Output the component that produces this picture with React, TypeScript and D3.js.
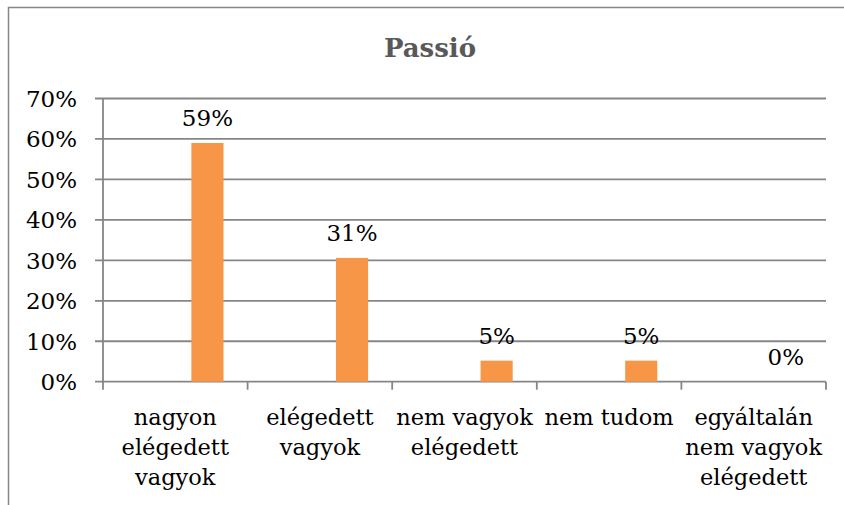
import { useEffect, useRef } from "react";
import * as d3 from "d3";

// Passió – satisfaction survey, single series drawn in the 3rd slot of a clustered layout
const title = "Passió";
const categories = [
  "nagyon\nelégedett\nvagyok",
  "elégedett\nvagyok",
  "nem vagyok\nelégedett",
  "nem tudom",
  "egyáltalán\nnem vagyok\nelégedett",
];
const values = [0.59, 0.306, 0.052, 0.052, 0];
const seriesSlots = ["s1", "s2", "Passió"];
const yTicks = [0, 0.1, 0.2, 0.3, 0.4, 0.5, 0.6, 0.7];

const W = 844;
const H = 505;
const FONT = "'DejaVu Serif', serif";
const GRID = "#868686";

export default function App() {
  const svgRef = useRef<SVGSVGElement | null>(null);

  useEffect(() => {
    const svg = d3.select(svgRef.current);
    svg.selectAll("*").remove();

    const margin = { top: 98.5, right: 18, bottom: 123.3, left: 103 };
    const x = d3
      .scaleBand<string>()
      .domain(categories)
      .range([margin.left, W - margin.right])
      .paddingInner(0)
      .paddingOuter(0);
    const slot = d3
      .scaleBand<string>()
      .domain(seriesSlots)
      .range([0, x.bandwidth()])
      .paddingInner(0)
      .paddingOuter(0.75);
    const y = d3
      .scaleLinear()
      .domain([0, 0.7])
      .range([H - margin.bottom, margin.top]);
    const pct = d3.format(".0%");

    // outer chart frame (runs off the right and bottom edges)
    svg
      .append("rect")
      .attr("x", 8.5)
      .attr("y", 7.5)
      .attr("width", W + 20)
      .attr("height", H + 20)
      .attr("fill", "white")
      .attr("stroke", GRID)
      .attr("stroke-width", 1.5);

    svg
      .append("text")
      .attr("x", 430)
      .attr("y", 57)
      .attr("text-anchor", "middle")
      .attr("font-family", FONT)
      .attr("font-weight", "bold")
      .attr("font-size", 26)
      .attr("fill", "#595959")
      .text(title);

    // horizontal gridlines + y tick marks
    const x0 = margin.left;
    const x1 = W - margin.right;
    svg
      .append("g")
      .selectAll("line")
      .data(yTicks)
      .join("line")
      .attr("x1", x0 - 8)
      .attr("x2", x1)
      .attr("y1", (d) => y(d))
      .attr("y2", (d) => y(d))
      .attr("stroke", GRID)
      .attr("stroke-width", 1.8);

    svg
      .append("g")
      .selectAll("text")
      .data(yTicks)
      .join("text")
      .attr("x", 77)
      .attr("y", (d) => y(d) + 8.5)
      .attr("text-anchor", "end")
      .attr("font-family", FONT)
      .attr("font-size", 23)
      .attr("fill", "#000")
      .text((d) => pct(d));

    // y axis line
    svg
      .append("line")
      .attr("x1", x0)
      .attr("x2", x0)
      .attr("y1", y(0.7))
      .attr("y2", y(0))
      .attr("stroke", GRID)
      .attr("stroke-width", 1.8);

    // x tick marks at category boundaries
    const bounds = categories.map((c) => x(c) as number).concat([x1]);
    svg
      .append("g")
      .selectAll("line")
      .data(bounds)
      .join("line")
      .attr("x1", (d) => d)
      .attr("x2", (d) => d)
      .attr("y1", y(0))
      .attr("y2", y(0) + 8)
      .attr("stroke", GRID)
      .attr("stroke-width", 1.8);

    // bars
    const barX = (c: string) => (x(c) as number) + (slot("Passió") as number);
    svg
      .append("g")
      .selectAll("rect")
      .data(categories)
      .join("rect")
      .attr("x", (c) => barX(c))
      .attr("width", slot.bandwidth())
      .attr("y", (_, i) => y(values[i]))
      .attr("height", (_, i) => y(0) - y(values[i]))
      .attr("fill", "#F79646");

    // data labels
    svg
      .append("g")
      .selectAll("text")
      .data(categories)
      .join("text")
      .attr("x", (c) => barX(c) + slot.bandwidth() / 2)
      .attr("y", (_, i) => y(values[i]) - 17)
      .attr("text-anchor", "middle")
      .attr("font-family", FONT)
      .attr("font-size", 23)
      .attr("fill", "#000")
      .text((_, i) => pct(values[i]));

    // category labels
    const cat = svg
      .append("g")
      .selectAll("text")
      .data(categories)
      .join("text")
      .attr("text-anchor", "middle")
      .attr("font-family", FONT)
      .attr("font-size", 22.5)
      .attr("fill", "#000");
    cat
      .selectAll("tspan")
      .data((c) => c.split("\n").map((line) => ({ c, line })))
      .join("tspan")
      .attr("x", (d) => (x(d.c) as number) + x.bandwidth() / 2)
      .attr("y", (_, i) => 425 + i * 30)
      .text((d) => d.line);
  }, []);

  return (
    <svg
      ref={svgRef}
      width={W}
      height={H}
      style={{ position: "absolute", left: 0, top: 0, background: "white" }}
    />
  );
}
